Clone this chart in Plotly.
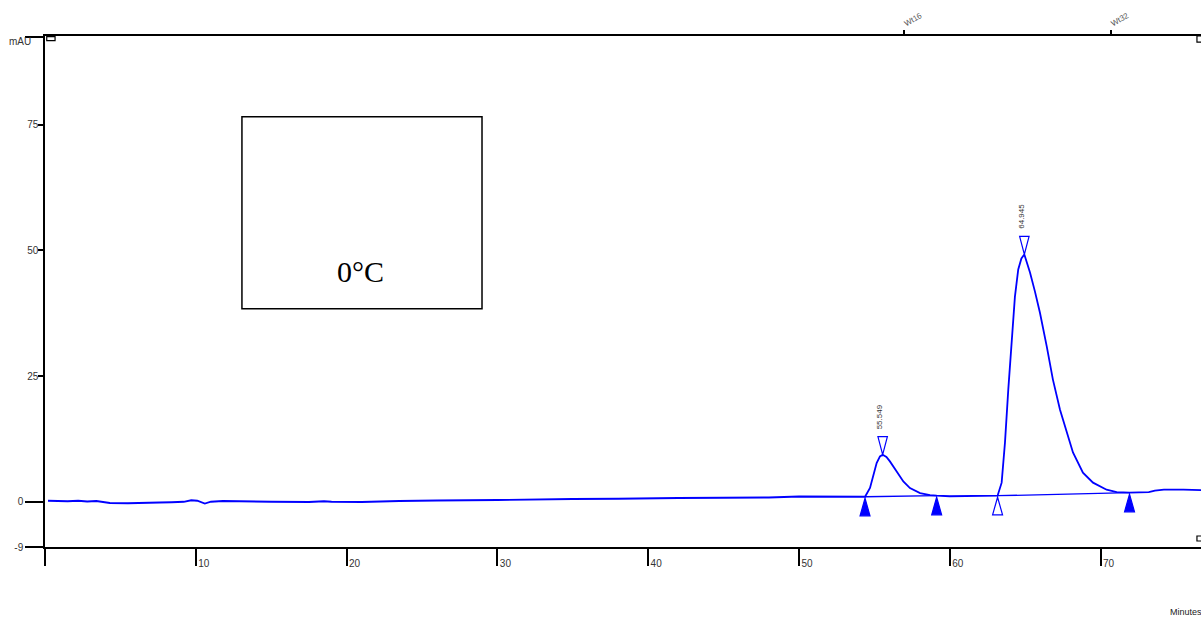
import plotly.graph_objects as go

# ---------------- data ----------------
time_min = [0.2, 0.8, 1.5, 2.2, 2.8, 3.4, 3.9, 4.3, 5.5, 7.0, 7.6, 8.4, 9.2, 9.7, 10.1,
            10.6, 11.0, 11.8, 12.5, 13.0, 15.0, 17.5, 18.5, 19.0, 21.0, 23.5, 24.0, 26.0,
            30.0, 32.0, 33.0, 35.0, 38.0, 40.0, 42.0, 45.0, 48.0, 50.0, 51.5, 53.0, 54.0,
            54.38, 54.71, 54.93, 55.15, 55.37, 55.549, 55.8, 56.03, 56.48, 56.92, 57.36, 58.03,
            58.69, 59.13, 60.0, 61.0, 62.0, 62.8, 63.17,
            63.44, 63.66, 63.88, 64.10, 64.32, 64.54, 64.75, 64.945, 65.32, 65.65, 65.98, 66.43,
            66.84, 67.31, 67.75, 68.17, 68.83, 69.5, 70.4, 71.07, 71.92,
            72.5, 73.2, 73.6, 74.2, 75.5, 76.7]
signal_mau = [0.2, 0.15, 0.1, 0.2, 0.05, 0.15, 0.0, -0.25, -0.3, -0.3, -0.15, -0.1, 0.0, 0.3, 0.2,
              -0.35, 0.0, 0.15, 0.1, 0.05, 0.0, -0.05, 0.1, 0.0, -0.05, 0.15, 0.2, 0.25,
              0.35, 0.45, 0.45, 0.55, 0.6, 0.72, 0.75, 0.8, 0.85, 1.05, 1.0, 0.95, 0.95,
              1.0, 2.73, 5.04, 7.71, 9.02, 9.36, 8.9, 8.03, 6.04, 4.04, 2.73, 1.73,
              1.33, 1.2, 1.1, 1.15, 1.05, 1.1, 1.2,
              3.8, 11.75, 22.3, 32.3, 40.8, 46.2, 48.4, 49.2, 45.6, 41.8, 37.6, 30.9,
              24.3, 18.3, 13.7, 9.8, 5.8, 3.8, 2.4, 1.9, 1.8,
              1.8, 1.9, 2.2, 2.4, 2.4, 2.3]

peak_times = [55.549, 64.945]
peak_heights = [9.36, 49.2]
peak_labels = ["55.549", "64.945"]

boundary_times = [54.38, 59.13, 63.17, 71.92]
boundary_levels = [1.0, 1.2, 1.2, 1.8]
boundary_filled = [True, True, False, True]
baseline_pairs = [(0, 1), (2, 3)]

x_ticks = [0, 10, 20, 30, 40, 50, 60, 70]
x_ticktext = ["", "10", "20", "30", "40", "50", "60", "70"]
y_ticks_short = [25, 50, 75]
y_ticks_long = [-9, 0, 92.55]
y_ticktext_long = ["-9", "0", ""]
top_ticks = [56.98, 70.69]
top_ticktext = ["Wt16", "Wt32"]

X_RANGE = [0, 76.66]
Y_RANGE = [-9, 92.65]
BLUE = "#0000ff"
FONT = "Arial, Liberation Sans, sans-serif"

fig = go.Figure()

fig.add_trace(go.Scatter(x=time_min, y=signal_mau, mode="lines",
                         line=dict(color=BLUE, width=1.8), hoverinfo="skip",
                         showlegend=False))

# integration baselines
for a, b in baseline_pairs:
    fig.add_trace(go.Scatter(x=[boundary_times[a], boundary_times[b]],
                             y=[boundary_levels[a], boundary_levels[b]],
                             mode="lines", line=dict(color=BLUE, width=1.3),
                             hoverinfo="skip", showlegend=False))

# invisible trace for top axis
fig.add_trace(go.Scatter(x=[X_RANGE[0]], y=[0], xaxis="x2", mode="markers",
                         marker=dict(opacity=0), hoverinfo="skip", showlegend=False))

shapes = []
TW = 0.33   # half width of triangles (min)
TH = 3.5    # triangle height (mAU)
for t, lvl, filled in zip(boundary_times, boundary_levels, boundary_filled):
    tip = lvl - 0.3
    path = f"M {t} {tip} L {t - TW} {tip - TH} L {t + TW} {tip - TH} Z"
    shapes.append(dict(type="path", path=path, xref="x", yref="y",
                       line=dict(color=BLUE, width=1.2),
                       fillcolor=BLUE if filled else "rgba(0,0,0,0)"))
for t, h in zip(peak_times, peak_heights):
    path = f"M {t} {h} L {t - TW*0.95} {h + TH*1.03} L {t + TW*0.95} {h + TH*1.03} Z"
    shapes.append(dict(type="path", path=path, xref="x", yref="y",
                       line=dict(color=BLUE, width=1.2), fillcolor="rgba(0,0,0,0)"))

# label box
shapes.append(dict(type="rect", xref="x", yref="y", x0=13.06, x1=28.98, y0=38.4, y1=76.6,
                   line=dict(color="black", width=1.5), fillcolor="rgba(0,0,0,0)"))
# corner markers
for x0, x1, y0, y1 in [(0.0015, 0.0087, 0.9908, 0.9986),
                       (0.9965, 1.002, 0.988, 1.0),
                       (0.9965, 1.002, 0.0117, 0.0215)]:
    shapes.append(dict(type="rect", xref="paper", yref="paper", x0=x0, x1=x1, y0=y0, y1=y1,
                       line=dict(color="black", width=1.2), fillcolor="white"))

annotations = []
for t, h, lab in zip(peak_times, peak_heights, peak_labels):
    annotations.append(dict(x=t, y=h, xref="x", yref="y", text=lab, showarrow=False,
                            textangle=-90, xanchor="center", yanchor="middle",
                            xshift=-3, yshift=38,
                            font=dict(family=FONT, size=8, color="#333333")))
annotations.append(dict(x=20.95, y=45.75, xref="x", yref="y", text="0°C", showarrow=False,
                        font=dict(family="Times New Roman, Liberation Serif, serif",
                                  size=30, color="black")))
annotations.append(dict(x=-0.0104, y=0.990, xref="paper", yref="paper", text="mAU",
                        showarrow=False, xanchor="right", yanchor="middle",
                        font=dict(family=FONT, size=10, color="#333333")))
annotations.append(dict(x=0.9715, y=-0.127, xref="paper", yref="paper", text="Minutes",
                        showarrow=False, xanchor="left", yanchor="middle",
                        font=dict(family=FONT, size=9, color="#222222")))

axis_common = dict(showgrid=False, zeroline=False, showline=True, linecolor="black",
                   linewidth=1.5, tickcolor="black", tickwidth=1.5)

fig.update_layout(
    width=1201, height=617,
    margin=dict(l=45, r=0, t=36, b=70),
    paper_bgcolor="white", plot_bgcolor="white",
    showlegend=False,
    shapes=shapes, annotations=annotations,
    xaxis=dict(range=X_RANGE, tickvals=x_ticks, ticktext=x_ticktext, ticks="outside",
               ticklen=17, ticklabelshift=8, ticklabelstandoff=-11,
               tickfont=dict(family=FONT, size=10, color="#333333"), **axis_common),
    xaxis2=dict(range=X_RANGE, overlaying="x", side="top", anchor="y",
                tickvals=top_ticks, ticktext=top_ticktext, ticks="outside", ticklen=4,
                tickangle=-30, tickfont=dict(family=FONT, size=8, color="#555555"),
                **axis_common),
    yaxis=dict(range=Y_RANGE, tickvals=y_ticks_short, ticks="outside", ticklen=5,
               ticklabelstandoff=-2,
               tickfont=dict(family=FONT, size=10, color="#333333"), **axis_common),
    yaxis2=dict(range=Y_RANGE, overlaying="y", side="left", anchor="x",
                tickvals=y_ticks_long, ticktext=y_ticktext_long, ticks="outside",
                ticklen=18, tickfont=dict(family=FONT, size=10, color="#333333"),
                **axis_common),
)
# dummy trace on y2 so it renders
fig.add_trace(go.Scatter(x=[X_RANGE[0]], y=[0], yaxis="y2", mode="markers",
                         marker=dict(opacity=0), hoverinfo="skip", showlegend=False))

fig.write_html("out.html")
